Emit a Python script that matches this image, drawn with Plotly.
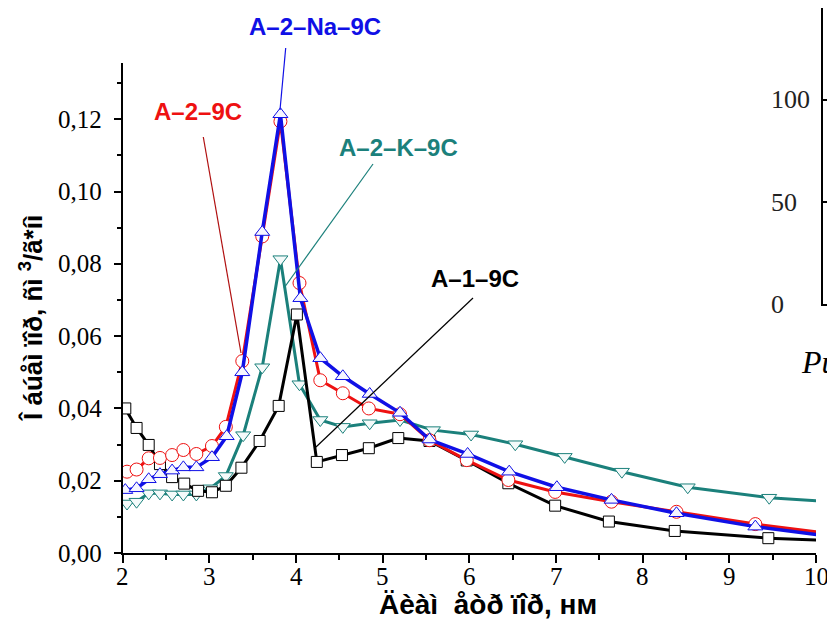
import plotly.graph_objects as go

# page has an 8px body margin; figure sized so it fills the 835x624 window
OFF = 8
FW, FH = 835 - OFF, 624 - OFF

# ---- data ----
x_a1 = [2.03, 2.16, 2.30, 2.43, 2.57, 2.71, 2.87, 3.03, 3.19, 3.37, 3.58, 3.80, 4.01, 4.24,
        4.53, 4.84, 5.18, 5.54, 5.97, 6.45, 6.99, 7.61, 8.37, 9.45, 10.6]
y_a1 = [0.0400, 0.0346, 0.0299, 0.0246, 0.0210, 0.0192, 0.0172, 0.0168, 0.0186, 0.0236, 0.0310,
        0.0407, 0.0660, 0.0252, 0.0271, 0.0290, 0.0318, 0.0310, 0.0256, 0.0193, 0.0131, 0.0087,
        0.0061, 0.0041, 0.0031]

x_a2 = [2.05, 2.16, 2.30, 2.43, 2.57, 2.70, 2.85, 3.03, 3.19, 3.38, 3.61, 3.82, 4.04, 4.28,
        4.54, 4.84, 5.20, 5.54, 5.97, 6.45, 6.99, 7.64, 8.39, 9.30, 10.6]
y_a2 = [0.0225, 0.0231, 0.0262, 0.0263, 0.0271, 0.0285, 0.0274, 0.0296, 0.0349, 0.0531, 0.0876,
        0.1194, 0.0747, 0.0478, 0.0442, 0.0400, 0.0384, 0.0312, 0.0257, 0.0202, 0.0169, 0.0142,
        0.0114, 0.0080, 0.0040]

x_na = [2.03, 2.16, 2.30, 2.43, 2.57, 2.70, 2.85, 3.03, 3.20, 3.38, 3.61, 3.82, 4.05, 4.28,
        4.54, 4.85, 5.20, 5.54, 5.98, 6.46, 7.01, 7.64, 8.39, 9.30, 10.6]
y_na = [0.0174, 0.0179, 0.0204, 0.0218, 0.0228, 0.0237, 0.0237, 0.0265, 0.0323, 0.0500, 0.0888,
        0.1214, 0.0705, 0.0539, 0.0489, 0.0440, 0.0388, 0.0314, 0.0274, 0.0225, 0.0182, 0.0147,
        0.0110, 0.0073, 0.0032]

x_k = [2.05, 2.16, 2.30, 2.43, 2.57, 2.70, 2.85, 3.01, 3.19, 3.39, 3.61, 3.82, 4.04, 4.28,
       4.54, 4.85, 5.20, 5.58, 6.02, 6.53, 7.10, 7.76, 8.52, 9.46, 10.6]
y_k = [0.0137, 0.0142, 0.0165, 0.0165, 0.0162, 0.0162, 0.0162, 0.0179, 0.0213, 0.0326, 0.0514,
       0.0813, 0.0467, 0.0368, 0.0349, 0.0359, 0.0368, 0.0340, 0.0328, 0.0301, 0.0266, 0.0225,
       0.0182, 0.0153, 0.0135]

x_ticks = [2, 3, 4, 5, 6, 7, 8, 9, 10]
x_tick_labels = ["2", "3", "4", "5", "6", "7", "8", "9", "10"]
y_ticks = [0.00, 0.02, 0.04, 0.06, 0.08, 0.10, 0.12]
y_tick_labels = ["0,00", "0,02", "0,04", "0,06", "0,08", "0,10", "0,12"]
frag_ticks = [0, 50, 100]
frag_tick_labels = ["0", "50", "100"]

labels = ["A–1–9C", "A–2–9C", "A–2–Na–9C", "A–2–K–9C"]
x_title = "Äèàì&nbsp; åòð ïîð, нм"
y_title = "Î áúåì ïîð, ñì <sup>3</sup>/ã*íì"
caption = "Рис."

BLACK = "#000000"
RED = "#EE1111"
BLUE = "#1010E6"
TEAL = "#1B807B"

SERIF = "Liberation Serif, Times New Roman, serif"
SANS = "Liberation Sans, Arial, sans-serif"


def pxx(px):
    return (px - OFF) / FW


def pxy(py):
    return 1 - (py - OFF) / FH


fig = go.Figure()

fig.add_trace(go.Scatter(x=x_k, y=y_k, mode="lines+markers", name=labels[3],
                         line=dict(color=TEAL, width=3),
                         marker=dict(symbol="triangle-down", size=13, color="#F4FAFA",
                                     line=dict(color=TEAL, width=1))))
fig.add_trace(go.Scatter(x=x_a1, y=y_a1, mode="lines+markers", name=labels[0],
                         line=dict(color=BLACK, width=3),
                         marker=dict(symbol="square", size=11, color="white",
                                     line=dict(color=BLACK, width=1))))
fig.add_trace(go.Scatter(x=x_a2, y=y_a2, mode="lines+markers", name=labels[1],
                         line=dict(color=RED, width=3),
                         marker=dict(symbol="circle", size=13, color="white",
                                     line=dict(color=RED, width=1))))
fig.add_trace(go.Scatter(x=x_na, y=y_na, mode="lines+markers", name=labels[2],
                         line=dict(color=BLUE, width=3.5),
                         marker=dict(symbol="triangle-up", size=13, color="#F6F6FF",
                                     line=dict(color=BLUE, width=1))))

# fragment of neighbouring chart on the right
fig.add_trace(go.Scatter(x=[None], y=[None], xaxis="x2", yaxis="y2", showlegend=False,
                         hoverinfo="skip"))

fig.update_layout(
    width=FW, height=FH, autosize=False,
    margin=dict(l=0, r=0, t=0, b=0, pad=0),
    paper_bgcolor="white", plot_bgcolor="white",
    showlegend=False,
    xaxis=dict(domain=[pxx(122.7), pxx(816)], range=[2, 10], tickvals=x_ticks,
               showticklabels=False, automargin=False,
               showline=True, linewidth=2, linecolor="black", mirror=False,
               ticks="outside", ticklen=8, tickwidth=1.5, tickcolor="black",
               minor=dict(dtick=0.5, tick0=2, ticks="outside", ticklen=5, tickwidth=1.5,
                          tickcolor="black"),
               showgrid=False, zeroline=False),
    yaxis=dict(domain=[pxy(553), pxy(63.3)], range=[0, 0.1355], tickvals=y_ticks,
               showticklabels=False, automargin=False,
               showline=True, linewidth=2, linecolor="black",
               ticks="outside", ticklen=7, tickwidth=1.5, tickcolor="black",
               minor=dict(dtick=0.01, tick0=0, ticks="outside", ticklen=4, tickwidth=1.5,
                          tickcolor="black"),
               showgrid=False, zeroline=False),
    xaxis2=dict(domain=[pxx(822.7), 1], range=[0, 1], anchor="y2", automargin=False,
                showline=True, linewidth=2, linecolor="black",
                showticklabels=False, ticks="", showgrid=False, zeroline=False),
    yaxis2=dict(domain=[pxy(304.3), 1], range=[0, 144.9], anchor="x2", automargin=False,
                tickvals=frag_ticks, showticklabels=False,
                showline=True, linewidth=2, linecolor="black",
                ticks="inside", ticklen=14, tickwidth=2, tickcolor="black",
                showgrid=False, zeroline=False),
)

# tick labels (serif, like the original)
for v, t in zip(x_ticks, x_tick_labels):
    fig.add_annotation(text=t, x=v, xref="x", y=pxy(576), yref="paper", showarrow=False,
                       xanchor="center", yanchor="middle",
                       font=dict(family=SERIF, size=25, color="black"))
for v, t in zip(y_ticks, y_tick_labels):
    fig.add_annotation(text=t, x=pxx(104), xref="paper", y=v, yref="y", showarrow=False,
                       xanchor="right", yanchor="middle",
                       font=dict(family=SERIF, size=25, color="black"))
for v, t in zip(frag_ticks, frag_tick_labels):
    fig.add_annotation(text=t, x=pxx(769), xref="paper", y=v, yref="y2", showarrow=False,
                       xanchor="left", yanchor="middle",
                       font=dict(family=SERIF, size=26, color="#222222"))

annots = [
    dict(text="<b>A–2–Na–9C</b>", x=pxx(315), y=pxy(26), color=BLUE),
    dict(text="<b>A–2–9C</b>", x=pxx(198), y=pxy(112), color=RED),
    dict(text="<b>A–2–K–9C</b>", x=pxx(398), y=pxy(147), color=TEAL),
    dict(text="<b>A–1–9C</b>", x=pxx(475), y=pxy(278), color=BLACK),
]
for a in annots:
    fig.add_annotation(text=a["text"], x=a["x"], y=a["y"], xref="paper", yref="paper",
                       showarrow=False, xanchor="center", yanchor="middle",
                       font=dict(family=SANS, size=24, color=a["color"]))

leaders = [
    ((285.7, 48), (280, 110), BLUE),
    ((203.3, 137), (241, 353), "#B01010"),
    ((373, 164), (284, 288), TEAL),
    ((473, 298), (316, 447), BLACK),
]
for (p0, p1, c) in leaders:
    fig.add_shape(type="line", xref="paper", yref="paper",
                  x0=pxx(p0[0]), y0=pxy(p0[1]), x1=pxx(p1[0]), y1=pxy(p1[1]),
                  line=dict(color=c, width=1.2))

# axis titles
fig.add_annotation(text="<b>" + x_title + "</b>", x=pxx(488), y=pxy(604),
                   xref="paper", yref="paper", showarrow=False,
                   xanchor="center", yanchor="middle",
                   font=dict(family=SANS, size=28, color="black"))
fig.add_annotation(text="<b>" + y_title + "</b>", x=pxx(31), y=pxy(319),
                   xref="paper", yref="paper", showarrow=False, textangle=-90,
                   xanchor="center", yanchor="middle",
                   font=dict(family=SANS, size=26, color="black"))

# caption fragment of the neighbouring figure
fig.add_annotation(text="<i>" + caption + "</i>", x=pxx(799), y=pxy(362),
                   xref="paper", yref="paper",
                   showarrow=False, xanchor="left", yanchor="middle",
                   font=dict(family=SERIF, size=32, color="black"))

fig.write_html("out.html")
